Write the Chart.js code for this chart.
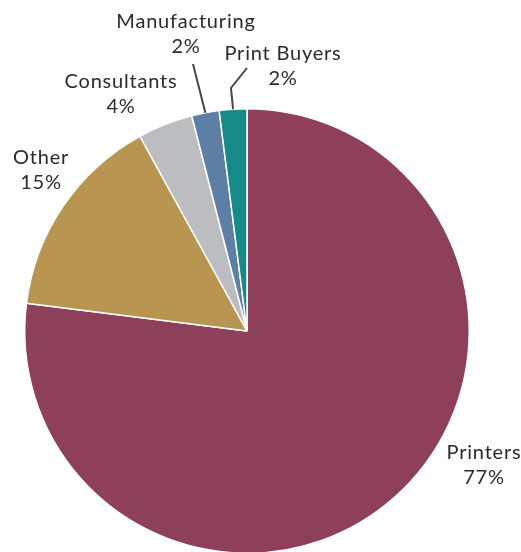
<!DOCTYPE html>
<html>
<head>
<meta charset="utf-8">
<script src="https://cdn.jsdelivr.net/npm/chart.js@4.4.1/dist/chart.umd.min.js"></script>
<style>
  html, body { margin: 0; padding: 0; background: #fff; overflow: hidden; }
  #wrap { position: relative; width: 521px; height: 560px; }
</style>
</head>
<body>
<div id="wrap"><canvas id="myChart" width="521" height="560"></canvas></div>
<script>
var categories = ['Printers', 'Other', 'Consultants', 'Manufacturing', 'Print Buyers'];
var shares = [77, 15, 4, 2, 2];
var sliceColors = ['#8e3f5a', '#b89550', '#bcbdc1', '#5e7fa5', '#158a89'];

// label anchor (centre x, baseline of first line) and optional leader line bends
var labelSpots = [
    { x: 484, y: 459 },
    { x: 41, y: 164 },
    { x: 121, y: 88 },
    { x: 186, y: 28, line: [[193, 64]] },
    { x: 283, y: 60, line: [[231, 88], [247, 68]] }
];

var sliceLabels = {
    id: 'sliceLabels',
    afterDatasetsDraw: function(chart) {
        var ctx = chart.ctx;
        var arcs = chart.getDatasetMeta(0).data;
        ctx.save();
        ctx.fillStyle = '#2b2b2b';
        ctx.strokeStyle = '#474747';
        ctx.lineWidth = 2;
        ctx.font = '20px Lato, "Open Sans", sans-serif';
        ctx.letterSpacing = '0.8px';
        ctx.textAlign = 'center';
        ctx.textBaseline = 'alphabetic';
        labelSpots.forEach(function(spot, i) {
            var arc = arcs[i];
            if (spot.line) {
                var mid = (arc.startAngle + arc.endAngle) / 2;
                ctx.beginPath();
                ctx.moveTo(arc.x + Math.cos(mid) * arc.outerRadius, arc.y + Math.sin(mid) * arc.outerRadius);
                spot.line.forEach(function(p) { ctx.lineTo(p[0], p[1]); });
                ctx.stroke();
            }
            ctx.fillText(categories[i], spot.x, spot.y);
            ctx.fillText(shares[i] + '%', spot.x, spot.y + 25);
        });
        ctx.restore();
    }
};

var ctx = document.getElementById('myChart').getContext('2d');
window.myChart = new Chart(ctx, {
    type: 'pie',
    data: {
        labels: categories,
        datasets: [{
            data: shares,
            backgroundColor: sliceColors,
            borderColor: '#ffffff',
            borderWidth: 1.5
        }]
    },
    options: {
        responsive: false,
        animation: false,
        layout: {
            padding: { left: 24, right: 51, top: 108, bottom: 6 }
        },
        plugins: {
            legend: { display: false },
            tooltip: { enabled: false }
        }
    },
    plugins: [sliceLabels]
});
</script>
</body>
</html>
